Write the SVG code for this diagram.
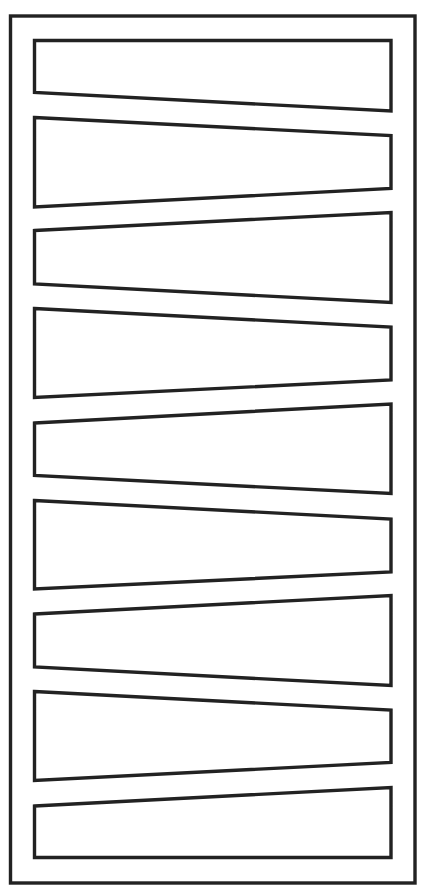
<svg xmlns="http://www.w3.org/2000/svg" width="425" height="891" viewBox="0 0 425 891">
<style>
.s{fill:#fff;stroke:#222;stroke-width:3.4;stroke-linejoin:miter}
</style>
<rect width="425" height="891" fill="#fff"/>
<g id="frame"><rect class="s" x="10.5" y="16" width="404.5" height="867"/></g>
<g id="panel1"><polygon class="s" points="34.5,40.5 391,40.5 391,111 34.5,92.5"/></g>
<g id="panel2"><polygon class="s" points="34.5,117.5 391,135.5 391,188.5 34.5,207"/></g>
<g id="panel3"><polygon class="s" points="34.5,230.5 391,212.5 391,302.5 34.5,284"/></g>
<g id="panel4"><polygon class="s" points="34.5,308.5 391,327 391,380 34.5,397.5"/></g>
<g id="panel5"><polygon class="s" points="34.5,423 391,404 391,493.5 34.5,475.5"/></g>
<g id="panel6"><polygon class="s" points="34.5,500.5 391,519 391,572 34.5,589"/></g>
<g id="panel7"><polygon class="s" points="34.5,614 391,595.5 391,685.5 34.5,667"/></g>
<g id="panel8"><polygon class="s" points="34.5,691.5 391,710 391,762.5 34.5,780.5"/></g>
<g id="panel9"><polygon class="s" points="34.5,806 391,787.5 391,857.5 34.5,857.5"/></g>
</svg>
